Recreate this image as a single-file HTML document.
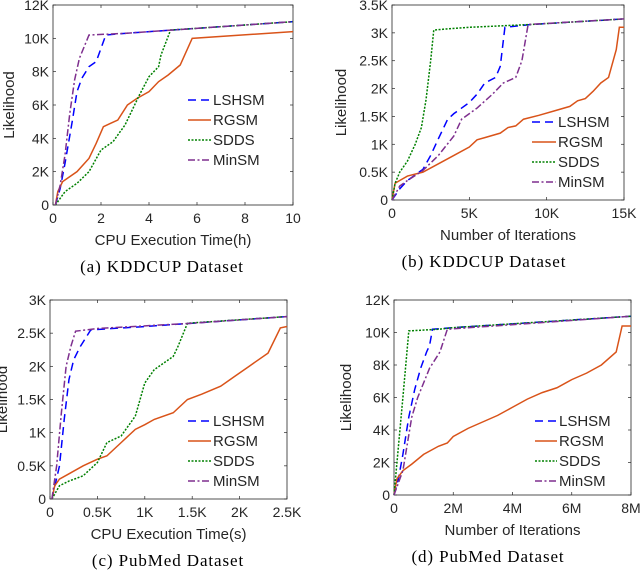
<!DOCTYPE html>
<html><head><meta charset="utf-8"><style>
body{margin:0;background:#fff;width:640px;height:571px;overflow:hidden}
svg{display:block}
text{font-family:"Liberation Sans",sans-serif;fill:#262626}
.cap{font-family:"Liberation Serif",serif;fill:#000;font-size:17px;letter-spacing:0.9px}
</style></head><body>
<svg id="fig" width="640" height="571"></svg>
<script>
// Panel (a) data: x in hours, y in K
const aLSHSMx=[0.1,0.3,0.5,0.8,1,1.2,1.5,1.8,2.2,3,5,10];
const aLSHSMy=[0,1,2.5,5,6.8,7.6,8.3,8.6,10.2,10.3,10.5,11];
const aRGSMx=[0.1,0.2,0.4,1,1.5,1.8,2.1,2.4,2.7,3.1,3.5,4,4.4,4.8,5.3,5.8,10];
const aRGSMy=[0,0.8,1.4,2,2.8,3.7,4.7,4.9,5.1,6,6.4,6.8,7.4,7.8,8.4,10,10.4];
const aSDDSx=[0.1,0.5,1,1.5,2,2.5,3,3.3,3.6,4,4.4,4.5,4.9,6,10];
const aSDDSy=[0,0.8,1.3,2,3.3,3.8,4.8,5.7,6.6,7.7,8.3,9,10.5,10.6,11];
const aMinSMx=[0.1,0.3,0.5,0.7,0.9,1.1,1.5,3,5,10];
const aMinSMy=[0,1.2,3,5.5,7.5,8.8,10.2,10.3,10.5,11];
// Panel (b): x in K iterations, y in K
const bLSHSMx=[0,0.5,1,2,2.5,3,3.6,4,4.5,5,5.5,6,6.7,7,7.3,9,15];
const bLSHSMy=[0,0.2,0.35,0.55,0.8,1.1,1.45,1.55,1.65,1.75,1.9,2.1,2.2,2.4,3.1,3.15,3.25];
const bRGSMx=[0,0.2,0.5,1,2,3,4,5,5.5,6,7,7.5,8,8.5,9.5,10.5,11.5,12,12.5,13,13.5,14,14.5,14.7,15];
const bRGSMy=[0,0.3,0.35,0.43,0.5,0.65,0.8,0.95,1.08,1.12,1.2,1.3,1.33,1.45,1.52,1.6,1.68,1.78,1.82,1.95,2.1,2.2,2.7,3.1,3.1];
const bSDDSx=[0,0.2,0.5,1,1.5,1.9,2.2,2.5,2.7,3.5,5,9,15];
const bSDDSy=[0,0.3,0.5,0.7,1,1.3,1.8,2.5,3.05,3.07,3.1,3.15,3.25];
const bMinSMx=[0,0.5,1,2,3,4,4.5,5.5,6.5,7.2,8,8.4,8.8,15];
const bMinSMy=[0,0.25,0.35,0.53,0.8,1.15,1.45,1.65,1.9,2.1,2.2,2.5,3.15,3.25];
// Panel (c): x in K seconds, y in K
const cLSHSMx=[0.02,0.1,0.15,0.2,0.25,0.32,0.43,1,1.5,2.5];
const cLSHSMy=[0,0.5,1.2,1.8,2.1,2.3,2.55,2.6,2.65,2.75];
const cRGSMx=[0.02,0.05,0.1,0.2,0.35,0.5,0.6,0.75,0.9,1.0,1.1,1.3,1.45,1.6,1.8,1.95,2.1,2.3,2.43,2.5];
const cRGSMy=[0,0.2,0.3,0.38,0.5,0.6,0.65,0.85,1.05,1.12,1.2,1.3,1.5,1.58,1.7,1.85,2.0,2.2,2.58,2.6];
const cSDDSx=[0.02,0.1,0.2,0.35,0.5,0.6,0.75,0.9,1.0,1.1,1.3,1.35,1.45,2.5];
const cSDDSy=[0,0.2,0.27,0.35,0.55,0.85,0.95,1.25,1.75,1.95,2.15,2.3,2.65,2.75];
const cMinSMx=[0.02,0.07,0.12,0.17,0.22,0.27,0.5,1.5,2.5];
const cMinSMy=[0,0.5,1.3,2.0,2.3,2.53,2.57,2.65,2.75];
// Panel (d): x in M iterations, y in K
const dLSHSMx=[0,0.15,0.3,0.5,0.7,0.9,1.1,1.2,1.3,2,8];
const dLSHSMy=[0,1,2.5,4.8,6.5,7.8,8.8,9.2,10.2,10.3,11];
const dRGSMx=[0,0.1,0.3,0.6,1,1.5,1.8,2,2.5,3,3.5,4,4.5,5,5.5,6,6.5,7,7.5,7.7,8];
const dRGSMy=[0,1,1.5,1.9,2.5,3,3.2,3.6,4.1,4.5,4.9,5.4,5.9,6.3,6.6,7.1,7.5,8,8.8,10.4,10.4];
const dSDDSx=[0,0.15,0.3,0.5,1.5,2,8];
const dSDDSy=[0,3,6,10.1,10.2,10.3,11];
const dMinSMx=[0,0.3,0.6,0.8,1.2,1.55,1.8,8];
const dMinSMy=[0,1.5,4.8,6,7.8,8.8,10.2,11];
// ticks
const aXT=[0,2,4,6,8,10], aXL=["0","2","4","6","8","10"];
const aYT=[0,2,4,6,8,10,12], aYL=["0","2K","4K","6K","8K","10K","12K"];
const bXT=[0,5,10,15], bXL=["0","5K","10K","15K"];
const bYT=[0,0.5,1,1.5,2,2.5,3,3.5], bYL=["0","0.5K","1K","1.5K","2K","2.5K","3K","3.5K"];
const cXT=[0,0.5,1,1.5,2,2.5], cXL=["0","0.5K","1K","1.5K","2K","2.5K"];
const cYT=[0,0.5,1,1.5,2,2.5,3], cYL=["0","0.5K","1K","1.5K","2K","2.5K","3K"];
const dXT=[0,2,4,6,8], dXL=["0","2M","4M","6M","8M"];
const dYT=[0,2,4,6,8,10,12], dYL=["0","2K","4K","6K","8K","10K","12K"];
const seriesNames=["LSHSM","RGSM","SDDS","MinSM"];

const NS="http://www.w3.org/2000/svg";
const svg=document.getElementById('fig');
const styles={LSHSM:{c:"#0000ff",d:"8,5"},RGSM:{c:"#d95319",d:""},SDDS:{c:"#008000",d:"2,1.5"},MinSM:{c:"#7e2f8e",d:"7,2.5,2,2.5"}};
function el(tag,attrs,parent){const e=document.createElementNS(NS,tag);for(const k in attrs)e.setAttribute(k,attrs[k]);(parent||svg).appendChild(e);return e;}
function panel(id,box,xmax,ymax,xt,xl,yt,yl,series,xlabel,caption,capx,ylabx,leg){
  const g=el('g',{});
  
  
  const [L,T,R,B]=box;
  const sx=v=>L+(v/xmax)*(R-L), sy=v=>B-(v/ymax)*(B-T);
  const fr=el('rect',{x:L,y:T,width:R-L,height:B-T,fill:'none',stroke:'#262626','stroke-width':0.8},g);
  
  
  xt.forEach((v,i)=>{
    el('line',{x1:sx(v),x2:sx(v),y1:B,y2:B-3,stroke:'#262626','stroke-width':0.7},g);
    el('line',{x1:sx(v),x2:sx(v),y1:T,y2:T+3,stroke:'#262626','stroke-width':0.7},g);
    const t=el('text',{x:sx(v),y:B+18,'text-anchor':'middle','font-size':14},g);t.textContent=xl[i];
    
    
  });
  yt.forEach((v,i)=>{
    el('line',{x1:L,x2:L+3,y1:sy(v),y2:sy(v),stroke:'#262626','stroke-width':0.7},g);
    el('line',{x1:R,x2:R-3,y1:sy(v),y2:sy(v),stroke:'#262626','stroke-width':0.7},g);
    const t=el('text',{x:L-4,y:sy(v)+5,'text-anchor':'end','font-size':14},g);t.textContent=yl[i];
    
    
  });
  series.forEach(([name,xs,ys])=>{
    const s=styles[name];
    const p=el('polyline',{points:xs.map((x,i)=>sx(x)+','+sy(ys[i])).join(' '),fill:'none',stroke:s.c,'stroke-width':1.5,'stroke-dasharray':s.d},g);
    
    
  });
  const xlab=el('text',{x:(L+R)/2,y:B+40,'text-anchor':'middle','font-size':15},g);xlab.textContent=xlabel;
  
  
  const cy=(T+B)/2;
  const ylab=el('text',{x:ylabx,y:cy,'text-anchor':'middle','font-size':15,transform:`rotate(-90 ${ylabx} ${cy})`},g);ylab.textContent="Likelihood";
  
  
  const cp=el('text',{x:capx,y:B+67,'text-anchor':'middle','class':'cap'},g);cp.textContent=caption;
  
  
  const [lx1,lx2,ly0]=leg;
  seriesNames.forEach((n,i)=>{
    const s=styles[n];const y=ly0+i*20;
    const ln=el('line',{x1:lx1,x2:lx2,y1:y,y2:y,stroke:s.c,'stroke-width':1.5,'stroke-dasharray':s.d},g);
    
    
    const t=el('text',{x:lx2+2,y:y+5,'font-size':15},g);t.textContent=n;
    
    
  });
}
panel('a',[53,5,293,205],10,12,aXT,aXL,aYT,aYL,[["LSHSM",aLSHSMx,aLSHSMy],["RGSM",aRGSMx,aRGSMy],["SDDS",aSDDSx,aSDDSy],["MinSM",aMinSMx,aMinSMy]],"CPU Execution Time(h)","(a) KDDCUP Dataset",162,14,[188,211,100]);
panel('b',[392,5,624,200],15,3.5,bXT,bXL,bYT,bYL,[["LSHSM",bLSHSMx,bLSHSMy],["RGSM",bRGSMx,bRGSMy],["SDDS",bSDDSx,bSDDSy],["MinSM",bMinSMx,bMinSMy]],"Number of Iterations","(b) KDDCUP Dataset",484,346,[532,556,122]);
panel('c',[50,300,287,499],2.5,3,cXT,cXL,cYT,cYL,[["LSHSM",cLSHSMx,cLSHSMy],["RGSM",cRGSMx,cRGSMy],["SDDS",cSDDSx,cSDDSy],["MinSM",cMinSMx,cMinSMy]],"CPU Execution Time(s)","(c) PubMed Dataset",168,7,[188,211,421]);
panel('d',[394,300,631,495],8,12,dXT,dXL,dYT,dYL,[["LSHSM",dLSHSMx,dLSHSMy],["RGSM",dRGSMx,dRGSMy],["SDDS",dSDDSx,dSDDSy],["MinSM",dMinSMx,dMinSMy]],"Number of Iterations","(d) PubMed Dataset",488,351,[535,557,421]);
</script>
</body></html>
